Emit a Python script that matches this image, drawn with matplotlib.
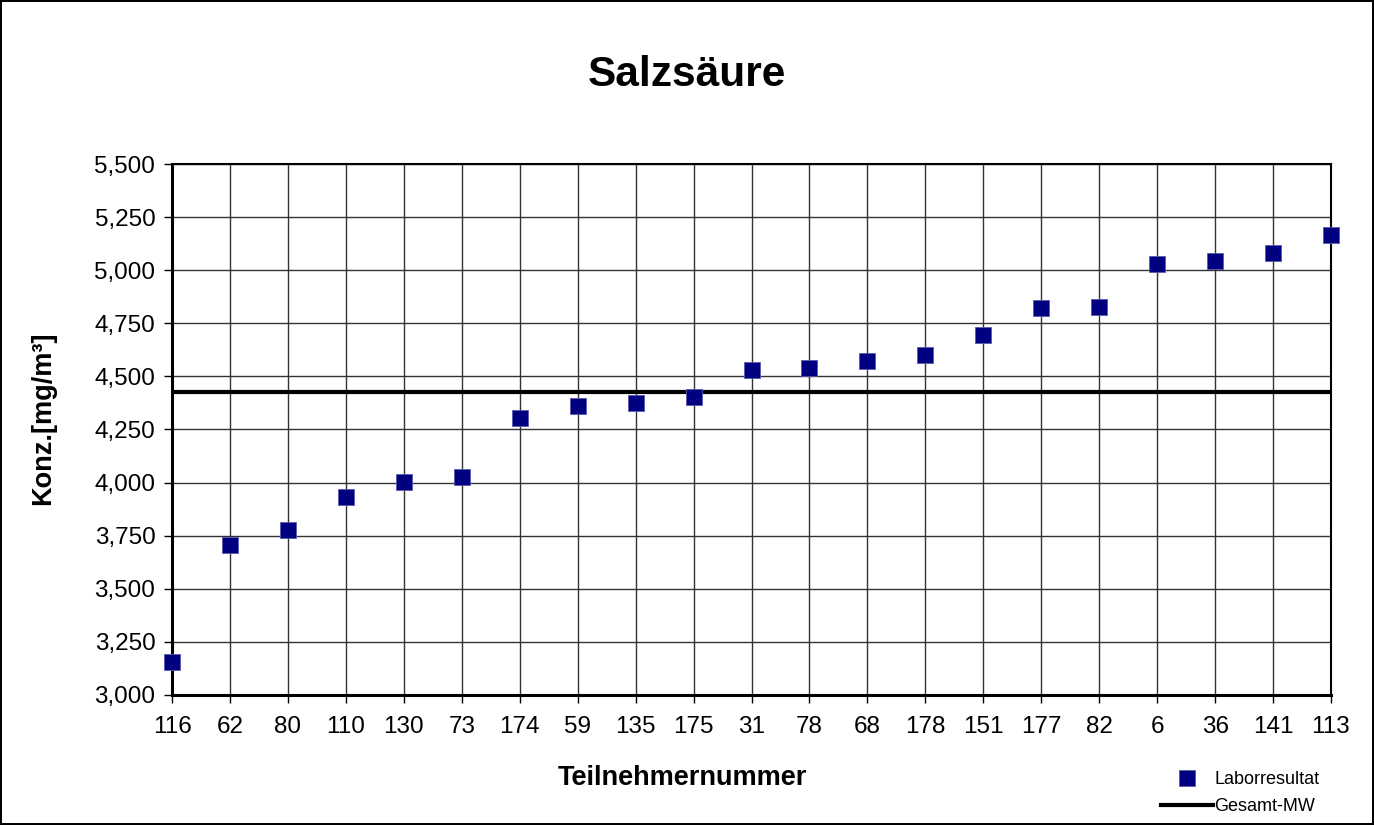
import matplotlib
matplotlib.use("Agg")
import matplotlib.pyplot as plt
import numpy as np

plt.rcParams['font.family'] = ['Liberation Sans', 'DejaVu Sans']

teilnehmer = ['116', '62', '80', '110', '130', '73', '174', '59', '135', '175', '31',
              '78', '68', '178', '151', '177', '82', '6', '36', '141', '113']
konz = [3157, 3705, 3777, 3931, 4003, 4028, 4304, 4362, 4373, 4403, 4532,
        4538, 4573, 4602, 4695, 4822, 4825, 5031, 5045, 5081, 5164]
gesamt_mw = 4425

fig = plt.figure(figsize=(13.74, 8.25), dpi=100)
fig.patch.set_edgecolor('black')
fig.patch.set_linewidth(1.5)
ax = fig.add_axes([0.1252, 0.1576, 0.8435, 0.6436])

x = np.arange(len(teilnehmer))
ax.plot(x, konz, linestyle='none', marker='s', markersize=11,
        markerfacecolor='#000080', markeredgecolor='#5a5ab0', markeredgewidth=0.6,
        label='Laborresultat', zorder=4, clip_on=False)
ax.axhline(gesamt_mw, color='black', linewidth=3, label='Gesamt-MW', zorder=3)

ax.set_xlim(0, len(teilnehmer) - 1)
ax.set_ylim(3000, 5500)
ax.set_xticks(x)
ax.set_xticklabels(teilnehmer)
yt = np.arange(3000, 5501, 250)
ax.set_yticks(yt)
ax.set_yticklabels([f'{v:,}' for v in yt])
ax.tick_params(labelsize=17.5, length=6, width=1, direction='out', pad=6)
ax.tick_params(axis='x', pad=9)
ax.grid(True, color='#333333', linewidth=1)
ax.set_axisbelow(True)
for s in ax.spines.values():
    s.set_linewidth(1.5)
ax.spines['left'].set_linewidth(2.2)
ax.spines['bottom'].set_linewidth(2.2)

fig.text(0.5, 1 - 75 / 825, 'Salzsäure', fontsize=30.5, fontweight='bold',
         ha='center', va='center')
fig.text(0.497, 1 - 778 / 825, 'Teilnehmernummer', fontsize=19.5, fontweight='bold',
         ha='center', va='center')
fig.text(43 / 1374, 1 - 418 / 825, 'Konz.[mg/m³]', fontsize=19.5, fontweight='bold',
         ha='center', va='center', rotation=90)

fig.legend(loc='upper left', bbox_to_anchor=(1152 / 1374, 1 - 762 / 825), frameon=False,
           fontsize=13, handlelength=2.9, handletextpad=0.05, labelspacing=0.55,
           borderpad=0)

fig.savefig('out.png', dpi=100)
